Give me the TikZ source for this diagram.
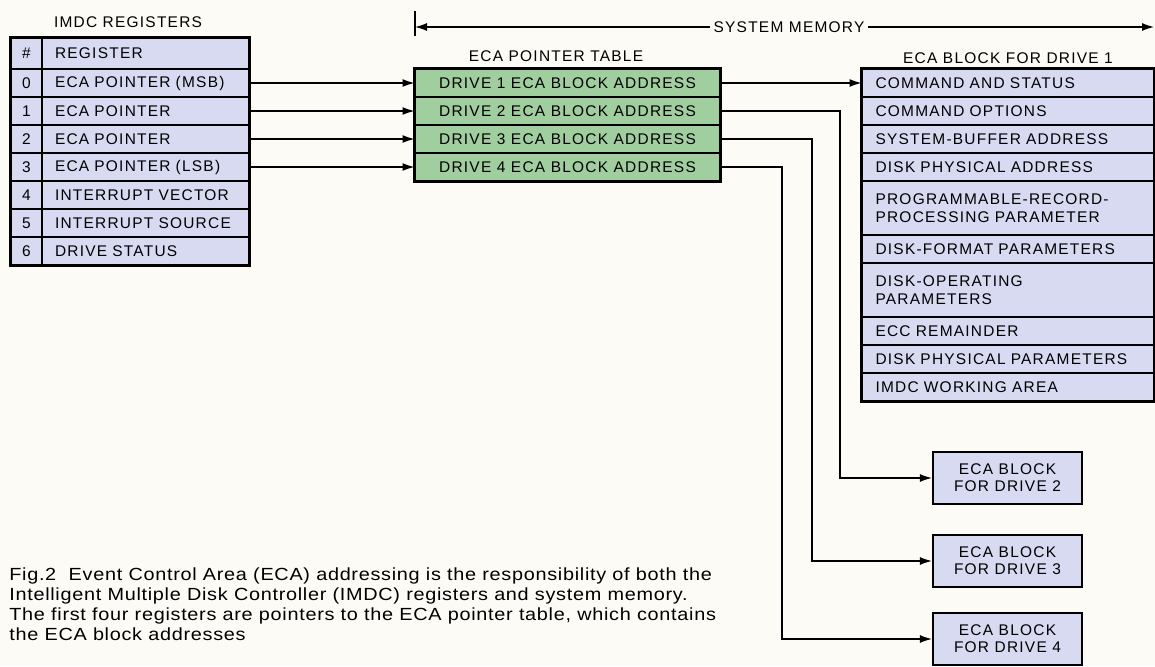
\documentclass[tikz,border=0pt]{standalone}
\usepackage{fontspec}
\setmainfont[LetterSpace=8]{Liberation Sans}
\newfontfamily\capfont[FakeStretch=1.13,LetterSpace=4]{Liberation Sans}
\usetikzlibrary{arrows.meta}
\usetikzlibrary{fit}
\definecolor{lav}{RGB}{216,218,242}
\definecolor{ptrgreen}{RGB}{160,206,158}
\definecolor{paper}{RGB}{252,251,245}

\begin{document}
\begin{tikzpicture}[x=0.02cm, y=-0.02cm, font=\fontsize{8.8}{10.2}\selectfont,
    arr/.style={-{Latex[length=2.4mm, width=1.6mm]}, line width=0.7pt},
    numcell/.style={draw, fill=lav, line width=0.6pt, minimum width=0.62cm, minimum height=0.56cm, inner sep=0pt},
    regcell/.style={draw, fill=lav, line width=0.6pt, minimum height=0.56cm, text width=3.62cm, inner xsep=0.26cm, inner ysep=0pt, align=left},
    ptrcell/.style={draw, fill=ptrgreen, line width=0.6pt, minimum width=6.1cm, minimum height=0.56cm, inner sep=0pt},
    ecacell/.style={draw, fill=lav, line width=0.6pt, minimum height=0.56cm, text width=5.3cm, inner xsep=0.27cm, inner ysep=0pt, align=left},
    drvbox/.style={draw, fill=lav, line width=1.3pt, minimum width=2.98cm, minimum height=1.04cm, inner sep=0pt, align=center, font=\fontsize{8.8}{9.6}\selectfont},
    frame/.style={draw, line width=1.2pt, inner sep=0pt},
    capt/.style={anchor=north west, align=left, inner sep=0pt, font=\capfont\fontsize{10}{11.5}\selectfont}]
      \path[use as bounding box, fill=paper] (0,0) rectangle (1155,666);

      \node (regtitle) at (128,22) {IMDC REGISTERS};
      \node[numcell, minimum height=0.62cm] (nh) at (26.5,53.5) {\#};
      \node[regcell, minimum height=0.62cm] (rh) at (145.5,53.5) {REGISTER};
      \node[numcell] (n0) at (26.5,83) {0};
      \node[regcell] (r0) at (145.5,83) {ECA POINTER (MSB)};
      \node[numcell] (n1) at (26.5,111) {1};
      \node[regcell] (r1) at (145.5,111) {ECA POINTER};
      \node[numcell] (n2) at (26.5,139) {2};
      \node[regcell] (r2) at (145.5,139) {ECA POINTER};
      \node[numcell] (n3) at (26.5,167) {3};
      \node[regcell] (r3) at (145.5,167) {ECA POINTER (LSB)};
      \node[numcell] (n4) at (26.5,195) {4};
      \node[regcell] (r4) at (145.5,195) {INTERRUPT VECTOR};
      \node[numcell] (n5) at (26.5,223) {5};
      \node[regcell] (r5) at (145.5,223) {INTERRUPT SOURCE};
      \node[numcell] (n6) at (26.5,251) {6};
      \node[regcell] (r6) at (145.5,251) {DRIVE STATUS};
      \node[frame, fit=(nh)(r6)] (regs) {};

      \node (ptrtitle) at (556,56) {ECA POINTER TABLE};
      \node[ptrcell] (p1) at (567.5,83) {DRIVE 1 ECA BLOCK ADDRESS};
      \node[ptrcell] (p2) at (567.5,111) {DRIVE 2 ECA BLOCK ADDRESS};
      \node[ptrcell] (p3) at (567.5,139) {DRIVE 3 ECA BLOCK ADDRESS};
      \node[ptrcell] (p4) at (567.5,167) {DRIVE 4 ECA BLOCK ADDRESS};
      \node[frame, fit=(p1)(p4)] (ptrs) {};

      \node (ecatitle) at (1008,58) {ECA BLOCK FOR DRIVE 1};
      \node[ecacell] (e1) at (1008,83) {COMMAND AND STATUS};
      \node[ecacell] (e2) at (1008,111) {COMMAND OPTIONS};
      \node[ecacell] (e3) at (1008,139) {SYSTEM-BUFFER ADDRESS};
      \node[ecacell] (e4) at (1008,167) {DISK PHYSICAL ADDRESS};
      \node[ecacell, minimum height=1.08cm] (e5) at (1008,208) {PROGRAMMABLE-RECORD-\\PROCESSING PARAMETER};
      \node[ecacell] (e6) at (1008,249) {DISK-FORMAT PARAMETERS};
      \node[ecacell, minimum height=1.08cm] (e7) at (1008,290) {DISK-OPERATING\\PARAMETERS};
      \node[ecacell] (e8) at (1008,331) {ECC REMAINDER};
      \node[ecacell] (e9) at (1008,359) {DISK PHYSICAL PARAMETERS};
      \node[ecacell] (e10) at (1008,387) {IMDC WORKING AREA};
      \node[frame, fit=(e1)(e10)] (ecas) {};

      \node[drvbox] (d2) at (1007.5,478) {ECA BLOCK\\FOR DRIVE 2};
      \node[drvbox] (d3) at (1007.5,561) {ECA BLOCK\\FOR DRIVE 3};
      \node[drvbox] (d4) at (1007.5,639) {ECA BLOCK\\FOR DRIVE 4};

      \node[inner sep=2pt] (sysmem) at (789,27) {SYSTEM MEMORY};
      \coordinate (memleft) at (415,27);
      \coordinate (memright) at (1154,27);
      \draw[arr] (sysmem.west) -- (memleft);
      \draw[arr] (sysmem.east) -- (memright);
      \draw[line width=0.6pt] (415,11) -- (415,36);

      \draw[arr] (r0.east) -- (p1.west);
      \draw[arr] (r1.east) -- (p2.west);
      \draw[arr] (r2.east) -- (p3.west);
      \draw[arr] (r3.east) -- (p4.west);

      \coordinate (v2) at (840,0);
      \coordinate (v3) at (812,0);
      \coordinate (v4) at (782,0);
      \draw[arr] (p1.east) -- (e1.west);
      \draw[arr] (p2.east) -- (p2.east -| v2) |- (d2.west);
      \draw[arr] (p3.east) -- (p3.east -| v3) |- (d3.west);
      \draw[arr] (p4.east) -- (p4.east -| v4) |- (d4.west);

      \node[capt] (caption) at (9,567) {Fig.2\ \ Event Control Area (ECA) addressing is the responsibility of both the\\
        Intelligent Multiple Disk Controller (IMDC) registers and system memory.\\
        The first four registers are pointers to the ECA pointer table, which contains\\
        the ECA block addresses};
    \end{tikzpicture}
\end{document}
